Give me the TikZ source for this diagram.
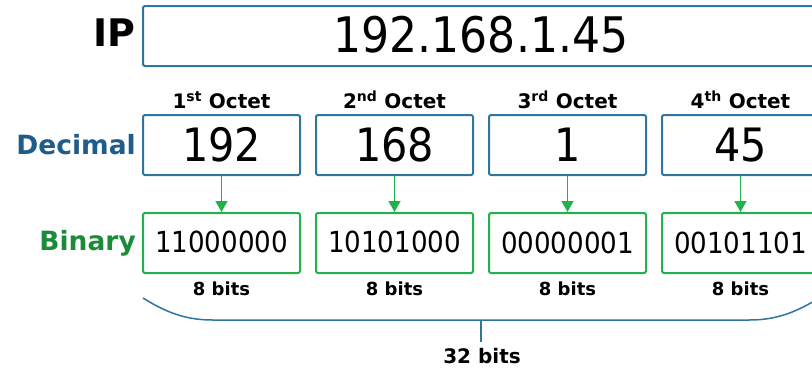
\documentclass[tikz,border=0pt]{standalone}
\usepackage{fontspec}
\setmainfont{DejaVu Sans}
\newfontfamily\condfont{DejaVu Sans Condensed}
\usetikzlibrary{arrows.meta}
\definecolor{ipblue}{RGB}{46,117,160}
\definecolor{ipgreen}{RGB}{34,177,76}
\definecolor{decblue}{RGB}{31,92,138}
\definecolor{bingreen}{RGB}{26,140,55}
\tikzset{
  decbox/.style={draw=ipblue, line width=2pt, rounded corners=2pt, minimum width=157pt, minimum height=60pt, inner sep=0pt, font=\condfont\fontsize{46}{48}\selectfont},
  binbox/.style={draw=ipgreen, line width=2pt, rounded corners=2pt, minimum width=157pt, minimum height=60pt, inner sep=0pt, font=\condfont\fontsize{29}{31}\selectfont},
  ipbox/.style={draw=ipblue, line width=2pt, rounded corners=2pt, minimum width=676pt, minimum height=60pt, inner sep=0pt, font=\condfont\fontsize{49}{51}\selectfont},
  rowlabel/.style={anchor=east, inner sep=0pt, font=\bfseries\fontsize{26.5}{28}\selectfont},
  octlabel/.style={inner sep=0pt, font=\bfseries\fontsize{20}{22}\selectfont},
  bitlabel/.style={inner sep=0pt, font=\bfseries\fontsize{18}{20}\selectfont},
  arr/.style={draw=ipgreen, line width=1.5pt, -{Triangle[width=12pt,length=11pt]}},
  bracestyle/.style={draw=ipblue, line width=1.5pt},
}
\begin{document}
\begin{tikzpicture}[x=1pt,y=-1pt]
\useasboundingbox (0,0) rectangle (812,368);
\clip (0,0) rectangle (812,368);

\node[ipbox] (ip) at (481,36) {\raisebox{3pt}{192.168.1.45}};
\node[rowlabel, font=\bfseries\fontsize{38}{40}\selectfont] (iplab) at (136,33) {IP};
\node[rowlabel, text=decblue] (declab) at (136,145) {Decimal};
\node[rowlabel, text=bingreen] (binlab) at (136,243) {Binary};

\node[octlabel] (o1) at (221.5,100) {1\textsuperscript{st} Octet};
\node[octlabel] (o2) at (394.5,100) {2\textsuperscript{nd} Octet};
\node[octlabel] (o3) at (567.5,100) {3\textsuperscript{rd} Octet};
\node[octlabel] (o4) at (740.5,100) {4\textsuperscript{th} Octet};

\node[decbox] (d1) at (221.5,145) {\raisebox{1pt}{192}};
\node[decbox] (d2) at (394.5,145) {\raisebox{1pt}{168}};
\node[decbox] (d3) at (567.5,145) {\raisebox{1pt}{1}};
\node[decbox] (d4) at (740.5,145) {\raisebox{1pt}{45}};

\node[binbox] (b1) at (221.5,243) {\raisebox{2pt}{11000000}};
\node[binbox] (b2) at (394.5,243) {\raisebox{2pt}{10101000}};
\node[binbox] (b3) at (567.5,243) {\raisebox{-3pt}{00000001}};
\node[binbox] (b4) at (740.5,243) {\raisebox{-3pt}{00101101}};

\draw[arr] (d1.south) -- (b1.north);
\draw[arr] (d2.south) -- (b2.north);
\draw[arr] (d3.south) -- (b3.north);
\draw[arr] (d4.south) -- (b4.north);

\node[bitlabel] (e1) at (221.5,289) {8 bits};
\node[bitlabel] (e2) at (394.5,289) {8 bits};
\node[bitlabel] (e3) at (567.5,289) {8 bits};
\node[bitlabel] (e4) at (740.5,289) {8 bits};

\coordinate (bl) at (143,298);
\coordinate (br) at (819,298);
\coordinate (bm) at (481,320);
\coordinate (bt) at (481,342);
\draw[bracestyle] (bl) .. controls (170,315) and (190,320) .. (213,320) -- (749,320) .. controls (772,320) and (792,315) .. (br);
\draw[bracestyle] (bm) -- (bt);
\node[octlabel] (total) at (482,356) {32 bits};
\end{tikzpicture}
\end{document}
